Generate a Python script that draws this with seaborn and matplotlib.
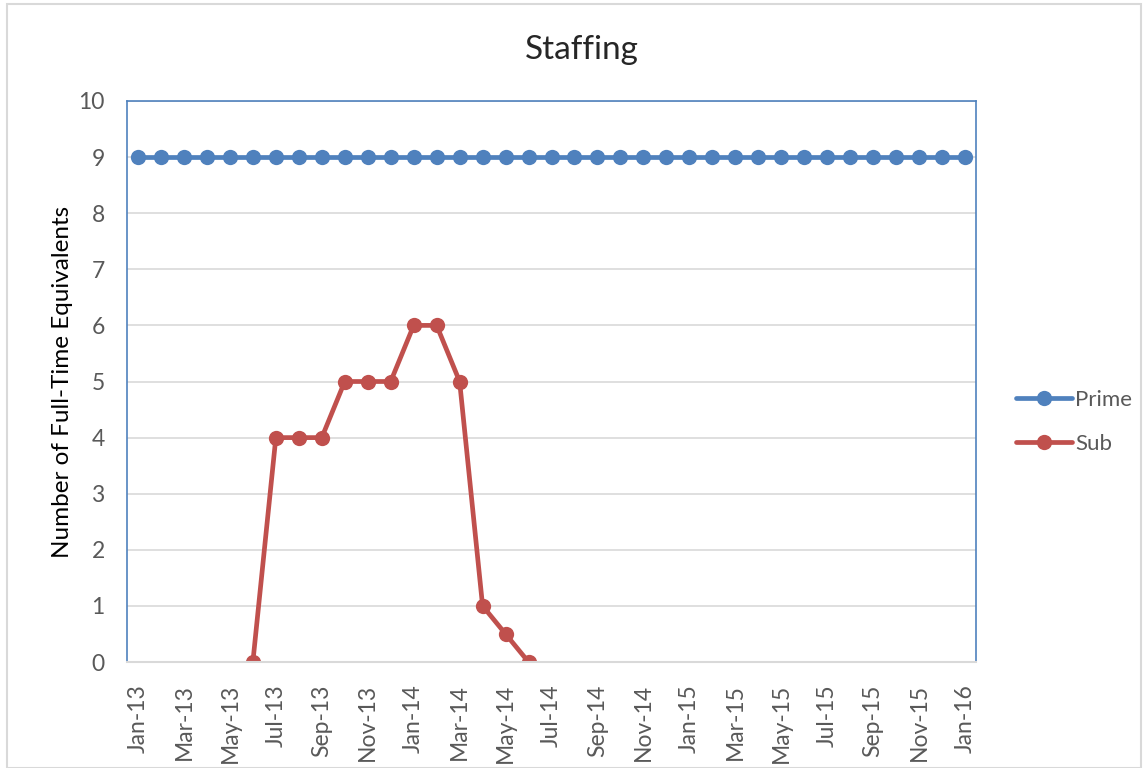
import pandas as pd
import numpy as np
import matplotlib.pyplot as plt
import seaborn as sns

sns.set_theme(style="white")
plt.rcParams['font.family'] = ['Lato', 'DejaVu Sans']

months = pd.date_range("2013-01-01", "2016-01-01", freq="MS")
month_labels = [m.strftime("%b-%y") for m in months]

prime = [9] * 37
sub = [np.nan] * 5 + [0, 4, 4, 4, 5, 5, 5, 6, 6, 5, 1, 0.5, 0] + [np.nan] * 19

df = pd.DataFrame({
    'idx': list(range(37)) * 2,
    'fte': prime + sub,
    'serie': ['Prime'] * 37 + ['Sub'] * 37,
})

palette = {"Prime": "#4F81BD", "Sub": "#C0504D"}

fig = plt.figure(figsize=(11.46, 7.68), dpi=100)
ax = fig.add_axes([0.1108, 0.138, 0.7409, 0.7305])

sns.lineplot(data=df, x='idx', y='fte', hue='serie', palette=palette,
             marker='o', markersize=11, linewidth=3.4, markeredgewidth=0,
             ax=ax)

ax.set_xlim(-0.48, 36.48)
ax.set_ylim(0, 10)
ax.set_yticks(range(0, 11))
ax.set_xticks(range(0, 37, 2))
ax.set_xticklabels(month_labels[::2], rotation=90)
ax.tick_params(axis='both', labelsize=16.5, colors='#595959', length=0)
ax.tick_params(axis='x', pad=16)
ax.tick_params(axis='y', pad=16)
ax.grid(axis='y', color='#D9D9D9', linewidth=1.2)
ax.set_axisbelow(True)
for s in ['left', 'right', 'top']:
    ax.spines[s].set_color('#4F81BD')
    ax.spines[s].set_linewidth(1.2)
ax.spines['bottom'].set_color('#D9D9D9')
ax.spines['bottom'].set_linewidth(1.5)

ax.set_xlabel("")
ax.set_ylabel("Number of Full-Time Equivalents", fontsize=17.5, color='black', labelpad=4)
fig.suptitle("Staffing", fontsize=24, y=0.955, x=0.508)

handles, labels = ax.get_legend_handles_labels()
ax.legend(handles, labels, loc='center left', bbox_to_anchor=(1.024, 0.428),
          frameon=False, fontsize=16, handlelength=2.5, labelcolor='#595959',
          labelspacing=1.1, handletextpad=0.15)

# light frame around the whole chart
fig.patches.append(plt.Rectangle((0.006, 0.0), 0.99, 0.995, transform=fig.transFigure,
                                 fill=False, edgecolor='#D9D9D9', linewidth=1.5))

plt.savefig("out.png", dpi=100)
